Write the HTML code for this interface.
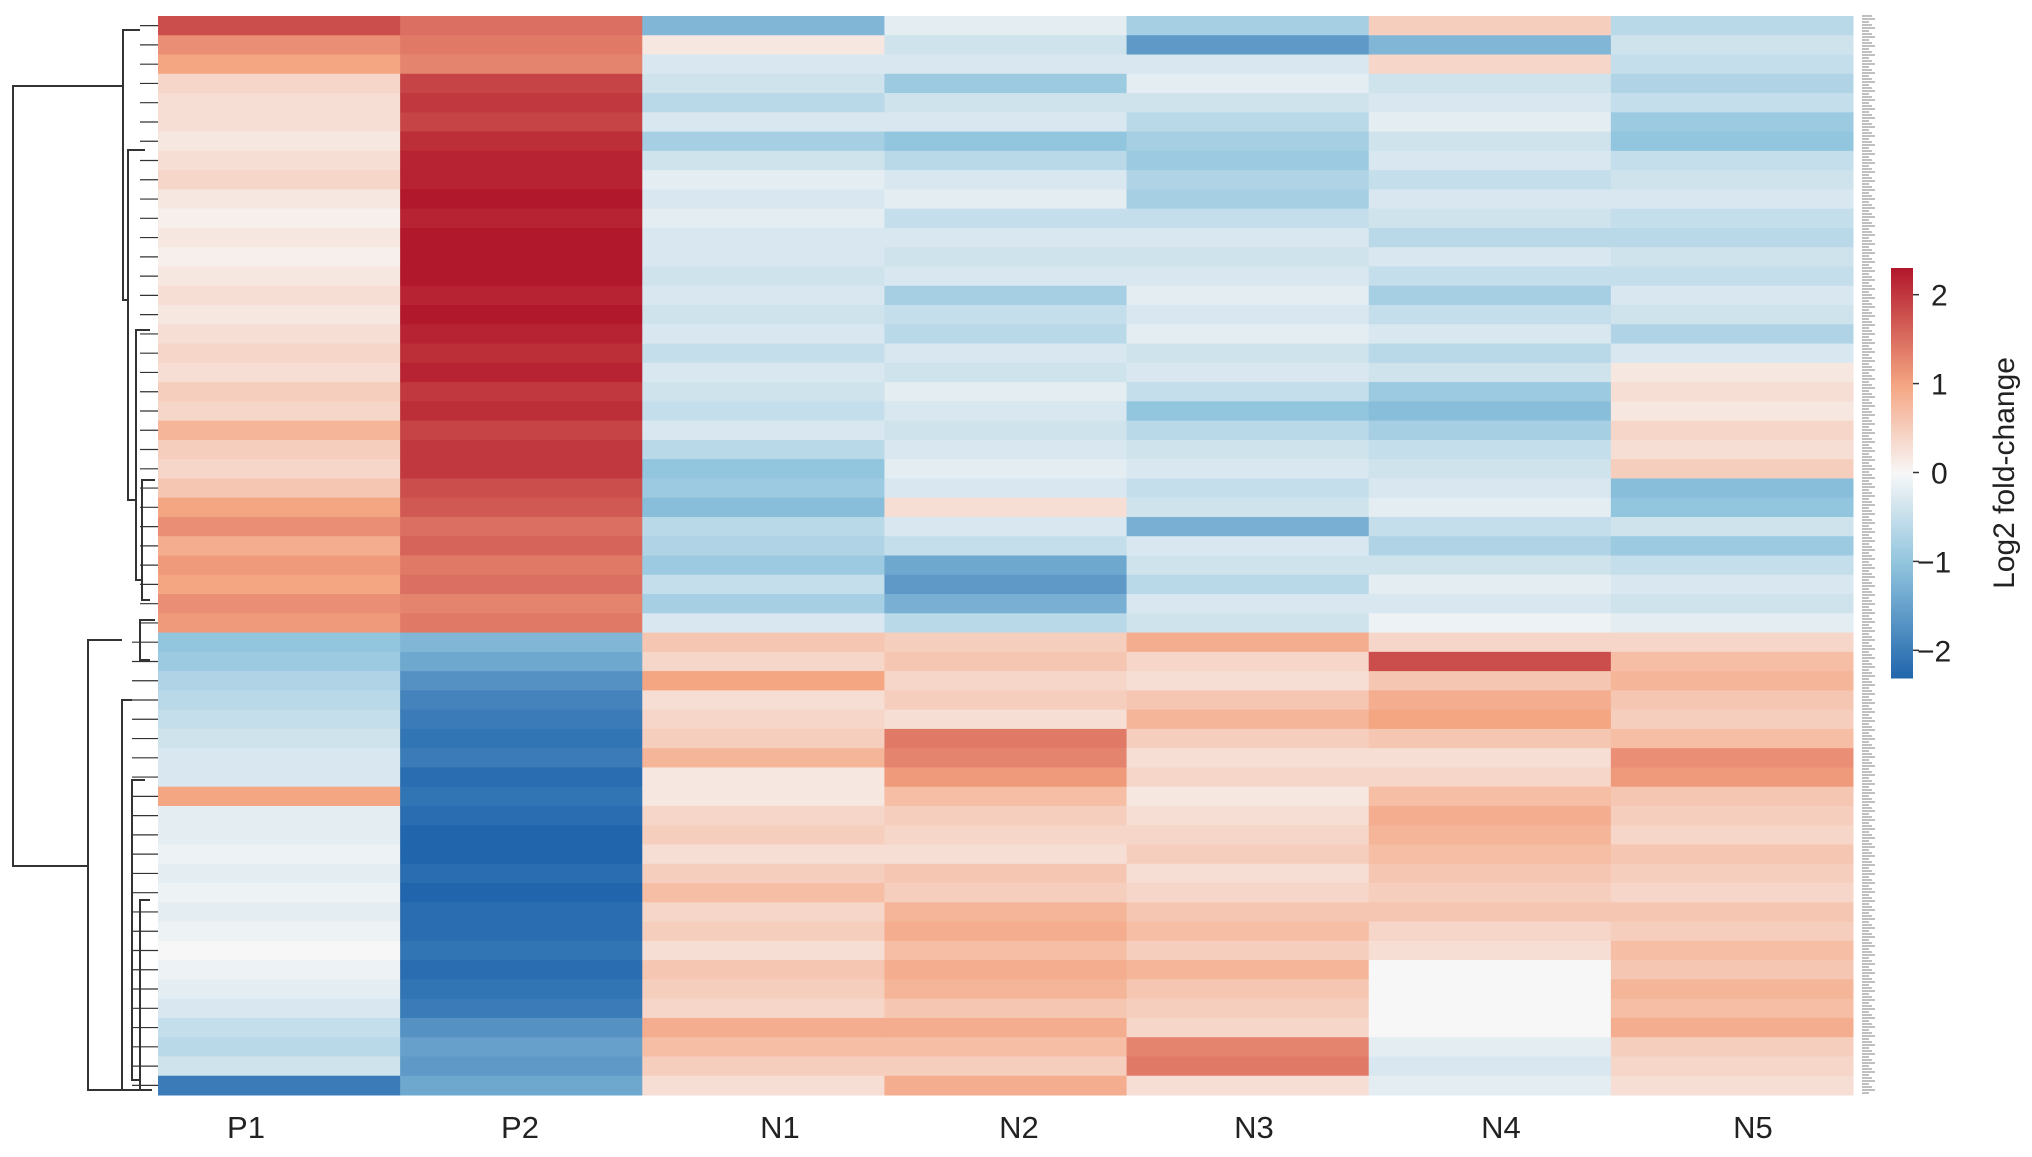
<!DOCTYPE html>
<html><head><meta charset="utf-8"><style>
html,body{margin:0;padding:0;background:#fff;}
svg text{font-family:"Liberation Sans",sans-serif;fill:#222;}
</style></head><body>
<svg id="chart" width="2032" height="1152" viewBox="0 0 2032 1152" xmlns="http://www.w3.org/2000/svg">
<g id="dendro" stroke="#333" stroke-width="2" fill="none"></g>
<g id="cells"></g>
<g id="rowlabels"></g>
<g id="collabels"></g>
<g id="cbar"></g>
</svg>
<script>
const columns = ["P1","P2","N1","N2","N3","N4","N5"];
const labelX = [246,520,780,1019,1254,1501,1753];
const P1 = [1.8,1.2,1.0,0.4,0.3,0.3,0.2,0.3,0.4,0.2,0.1,0.2,0.1,0.2,0.3,0.2,0.3,0.4,0.3,0.5,0.4,0.8,0.5,0.4,0.6,1.0,1.2,0.9,1.1,1.0,1.2,1.1,
 -1.0,-0.9,-0.7,-0.6,-0.5,-0.4,-0.3,-0.3,1.0,-0.2,-0.2,-0.1,-0.2,-0.1,-0.2,-0.1,0.0,-0.1,-0.2,-0.3,-0.5,-0.6,-0.4,-2.0];
const P2 = [1.5,1.4,1.3,1.9,2.0,1.9,2.1,2.2,2.2,2.3,2.2,2.3,2.3,2.3,2.2,2.3,2.2,2.1,2.2,2.0,2.1,1.9,2.0,2.0,1.8,1.7,1.5,1.6,1.4,1.5,1.3,1.4,
 -1.2,-1.4,-1.7,-1.9,-2.0,-2.1,-2.0,-2.2,-2.1,-2.2,-2.3,-2.3,-2.2,-2.3,-2.2,-2.2,-2.1,-2.2,-2.1,-2.0,-1.7,-1.5,-1.6,-1.4];
const N1 = [-1.2,0.2,-0.3,-0.4,-0.6,-0.3,-0.8,-0.4,-0.2,-0.3,-0.2,-0.3,-0.3,-0.4,-0.3,-0.4,-0.3,-0.5,-0.3,-0.4,-0.5,-0.3,-0.6,-1.0,-0.9,-1.1,-0.6,-0.7,-0.9,-0.5,-0.8,-0.3,
 0.6,0.4,1.0,0.3,0.4,0.5,0.8,0.2,0.2,0.4,0.5,0.3,0.5,0.7,0.4,0.5,0.3,0.6,0.5,0.4,0.9,0.7,0.5,0.3];
const N2 = [-0.2,-0.4,-0.3,-0.9,-0.4,-0.3,-1.0,-0.6,-0.3,-0.2,-0.5,-0.3,-0.4,-0.3,-0.8,-0.5,-0.6,-0.3,-0.4,-0.2,-0.3,-0.4,-0.3,-0.2,-0.3,0.3,-0.3,-0.5,-1.4,-1.6,-1.3,-0.6,
 0.5,0.6,0.4,0.5,0.3,1.4,1.3,1.1,0.7,0.5,0.4,0.3,0.6,0.5,0.8,0.9,0.7,0.9,0.8,0.6,0.9,0.7,0.5,0.9];
const N3 = [-0.8,-1.6,-0.3,-0.2,-0.4,-0.6,-0.8,-0.9,-0.7,-0.8,-0.5,-0.3,-0.4,-0.3,-0.2,-0.3,-0.2,-0.4,-0.3,-0.5,-1.0,-0.6,-0.4,-0.3,-0.5,-0.4,-1.3,-0.3,-0.4,-0.6,-0.3,-0.4,
 0.9,0.4,0.3,0.6,0.8,0.5,0.3,0.4,0.2,0.3,0.4,0.5,0.3,0.4,0.6,0.7,0.5,0.8,0.6,0.5,0.4,1.3,1.4,0.3];
const N4 = [0.5,-1.2,0.4,-0.4,-0.3,-0.2,-0.4,-0.3,-0.5,-0.3,-0.4,-0.6,-0.3,-0.5,-0.8,-0.5,-0.3,-0.6,-0.4,-0.9,-1.1,-0.8,-0.5,-0.4,-0.3,-0.2,-0.5,-0.7,-0.4,-0.2,-0.3,-0.1,
 0.4,1.8,0.6,0.9,1.0,0.6,0.3,0.4,0.7,0.9,0.8,0.7,0.6,0.5,0.6,0.4,0.3,0.0,0.0,0.0,0.0,-0.2,-0.3,-0.2];
const N5 = [-0.6,-0.4,-0.5,-0.7,-0.5,-0.9,-1.0,-0.5,-0.4,-0.3,-0.5,-0.6,-0.4,-0.5,-0.3,-0.4,-0.7,-0.3,0.2,0.3,0.2,0.4,0.3,0.5,-1.1,-1.0,-0.4,-0.9,-0.5,-0.3,-0.4,-0.2,
 0.4,0.7,0.8,0.6,0.5,0.7,1.2,1.1,0.6,0.5,0.4,0.6,0.5,0.4,0.6,0.5,0.7,0.6,0.8,0.7,0.9,0.5,0.4,0.3];
const series = [P1,P2,N1,N2,N3,N4,N5];
const cbTicks = [2,1,0,-1,-2];

const NS="http://www.w3.org/2000/svg";
function mk(t,a,p){const e=document.createElementNS(NS,t);for(const k in a)e.setAttribute(k,a[k]);p.appendChild(e);return e;}
const X0=158,X1=1853,Y0=16,Y1=1095,vmin=-2.3,vmax=2.3;
const nr=P1.length, cw=(X1-X0)/columns.length, rh=(Y1-Y0)/nr;
const xPos=i=>X0+i*cw, yPos=r=>Y0+r*rh;
const stops=[[-2.3,[33,102,172]],[-1,[146,197,222]],[0,[247,247,247]],[1,[244,165,130]],[2.3,[178,24,43]]];
function color(v){v=Math.max(vmin,Math.min(vmax,v));for(let i=0;i<stops.length-1;i++){const [a,ca]=stops[i],[b,cb]=stops[i+1];if(v<=b){const t=(v-a)/(b-a);return "rgb("+ca.map((c,j)=>Math.round(c+(cb[j]-c)*t)).join(",")+")";}}return "rgb(178,24,43)";}
const cells=document.getElementById('cells');
series.forEach((s,c)=>s.forEach((v,r)=>{
 const e=mk('rect',{x:xPos(c),y:yPos(r),width:cw+0.5,height:rh+0.5,fill:color(v)},cells);
 
 
}));
const cl=document.getElementById('collabels');
columns.forEach((n,i)=>{const t=mk('text',{x:labelX[i],y:1138,'font-size':31,'text-anchor':'middle'},cl);t.textContent=n;
 
 });
const rl=document.getElementById('rowlabels');
for(let y=Y0;y<Y1;y+=3){mk('line',{x1:1862,x2:1862+6+((y*7)%9),y1:y,y2:y,stroke:'#aaa','stroke-width':1.5},rl);}
const d=document.getElementById('dendro');
function link(x,ya,yb,xa,xb){mk('path',{d:`M${xa} ${ya}H${x}V${yb}H${xb}`},d);}
link(13,86,866,123,88);
link(123,30,300,140,128);link(128,150,500,145,136);link(136,330,580,150,142);link(142,480,600,155,150);
link(88,640,1090,122,140);link(140,620,660,155,150);link(122,700,1090,132,130);link(132,780,1080,145,140);link(140,900,1090,150,152);
for(let r=0;r<nr;r++){const yy=yPos(r)+rh/2;mk('line',{x1:r<32?140:132,x2:X0,y1:yy,y2:yy,'stroke-width':1.2},d);}
const cb=document.getElementById('cbar');
const cbY0=268,cbY1=677,cbX=1891,cbW=22;
const sc=v=>cbY0+(vmax-v)/(vmax-vmin)*(cbY1-cbY0);
for(let y=cbY0;y<cbY1;y+=2){const v=vmax-(y-cbY0)/(cbY1-cbY0)*(vmax-vmin);mk('rect',{x:cbX,y:y,width:cbW,height:2.5,fill:color(v)},cb);}
cbTicks.forEach(t=>{const y=sc(t);mk('line',{x1:cbX+cbW,x2:cbX+cbW+6,y1:y,y2:y,stroke:'#333','stroke-width':1.5},cb);
 const tx=mk('text',{x:cbX+cbW+(t<0?4:18),y:y+11,'font-size':30},cb);tx.textContent=(t<0?'\u2212'+(-t):String(t));
 
 });
const lt=mk('text',{x:0,y:0,'font-size':30,'text-anchor':'middle',transform:'translate(2014,473) rotate(-90)'},cb);
lt.textContent='Log2 fold-change';


</script>
</body></html>
